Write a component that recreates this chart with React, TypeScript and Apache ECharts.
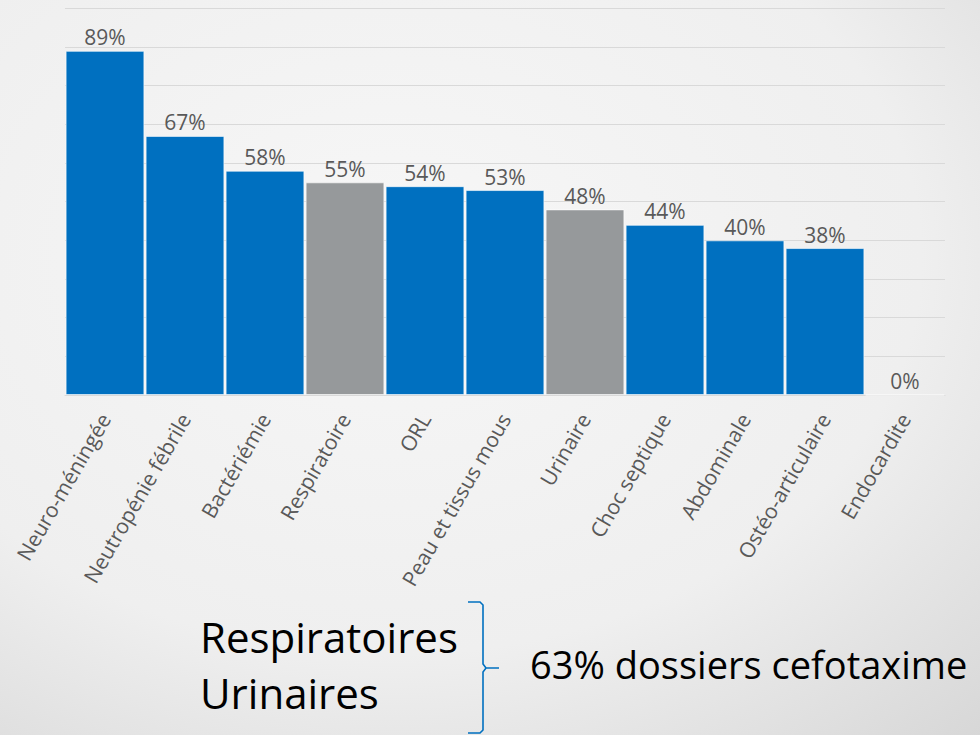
import React, { useEffect, useRef } from "react";
import * as echarts from "echarts";

const categories = [
  "Neuro-méningée",
  "Neutropénie fébrile",
  "Bactériémie",
  "Respiratoire",
  "ORL",
  "Peau et tissus mous",
  "Urinaire",
  "Choc septique",
  "Abdominale",
  "Ostéo-articulaire",
  "Endocardite",
];
const values = [89, 67, 58, 55, 54, 53, 48, 44, 40, 38, 0];
const highlighted = ["Respiratoire", "Urinaire"];
const bracketLines = ["Respiratoires", "Urinaires"];
const bracketNote = "63% dossiers cefotaxime";

const BLUE = "#0070c0";
const GRAY = "#96999b";

export default function App() {
  const ref = useRef<HTMLDivElement>(null);
  useEffect(() => {
    if (!ref.current) return;
    const chart = echarts.init(ref.current, undefined, { renderer: "svg" });
    const data = categories.map((c, i) => ({
      value: values[i],
      itemStyle: { color: highlighted.includes(c) ? GRAY : BLUE },
    }));
    chart.setOption({
      animation: false,
      backgroundColor: new echarts.graphic.RadialGradient(0.4, 0.35, 0.9, [
        { offset: 0, color: "#f7f7f7" },
        { offset: 0.6, color: "#efefef" },
        { offset: 1, color: "#d6d6d6" },
      ]),
      grid: { left: 65, right: 35, top: 8.3, bottom: 340, containLabel: false },
      xAxis: {
        type: "category",
        data: categories,
        axisLine: { show: true, lineStyle: { color: "#d9d9d9", width: 1 } },
        axisTick: { show: false },
        axisLabel: {
          rotate: 60,
          interval: 0,
          margin: 20,
          color: "#595959",
          fontFamily: "Open Sans",
          fontSize: 21,
        },
      },
      yAxis: {
        type: "value",
        min: 0,
        max: 100,
        interval: 10,
        axisLabel: { show: false },
        axisLine: { show: false },
        axisTick: { show: false },
        splitLine: { lineStyle: { color: "#d9d9d9", width: 1 } },
      },
      series: [
        {
          type: "bar",
          data,
          barCategoryGap: "1.5%",
          itemStyle: { borderColor: "rgba(255,255,255,0.6)", borderWidth: 1 },
          label: {
            show: true,
            position: "top",
            distance: 3,
            formatter: "{c}%",
            color: "#595959",
            fontFamily: "Open Sans",
            fontSize: 21,
          },
        },
      ],
      graphic: [
        {
          type: "text",
          left: 200,
          top: 615,
          style: {
            text: bracketLines[0],
            fontFamily: "Open Sans",
            fontSize: 42,
            fill: "#000000",
          },
        },
        {
          type: "text",
          left: 200,
          top: 671,
          style: {
            text: bracketLines[1],
            fontFamily: "Open Sans",
            fontSize: 42,
            fill: "#000000",
          },
        },
        {
          type: "text",
          left: 530,
          top: 645,
          style: {
            text: bracketNote,
            fontFamily: "Open Sans",
            fontSize: 38,
            fill: "#000000",
          },
        },
        {
          type: "polyline",
          shape: {
            points: [
              [468, 602],
              [480, 602],
              [483, 605],
              [483, 664],
              [486, 668],
              [499, 668],
              [486, 668],
              [483, 672],
              [483, 730],
              [480, 733],
              [468, 733],
            ],
          },
          style: { stroke: BLUE, lineWidth: 1.6, fill: "none" },
        },
      ],
    });
    return () => chart.dispose();
  }, []);
  return (
    <div
      ref={ref}
      style={{ position: "absolute", left: 0, top: 0, width: 980, height: 735 }}
    />
  );
}
